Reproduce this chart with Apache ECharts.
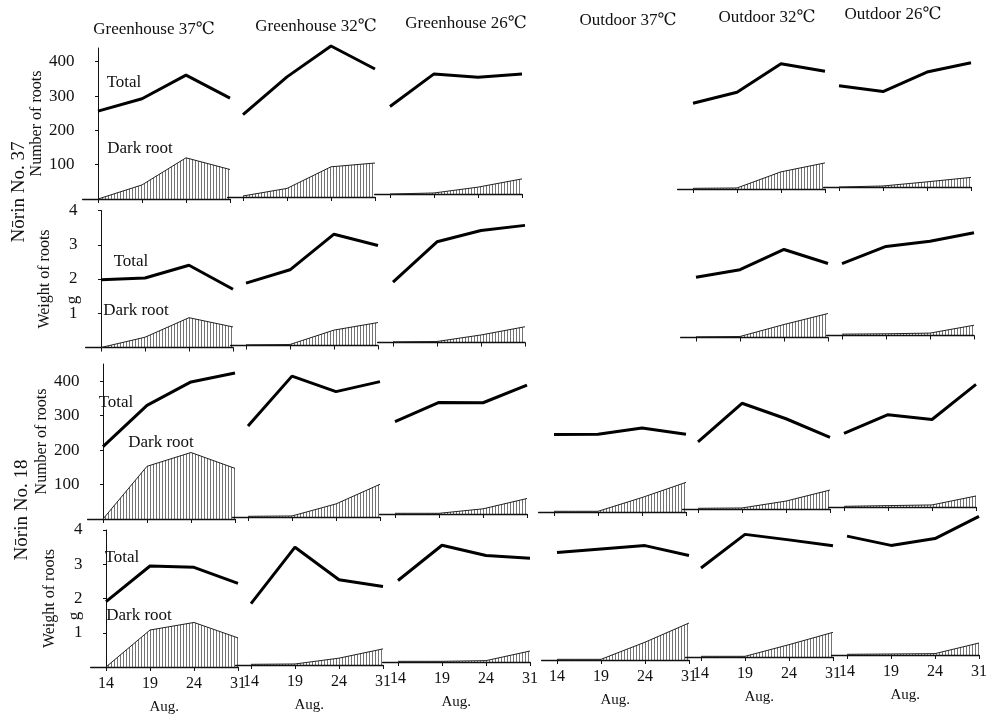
<!DOCTYPE html>
<html>
<head>
<meta charset="utf-8">
<script src="https://cdn.jsdelivr.net/npm/echarts@6/dist/echarts.min.js"></script>
<style>
  html, body { margin: 0; background: #fff; }
  #main { width: 993px; height: 718px; }
</style>
</head>
<body>
<div id="main"></div>
<script>
var days = ['14', '19', '24', '31'];
var conditions = ['Greenhouse 37℃', 'Greenhouse 32℃', 'Greenhouse 26℃', 'Outdoor 37℃', 'Outdoor 32℃', 'Outdoor 26℃'];

// one entry per condition, null = no data
var n37CountTotal = [[256, 292, 361, 294], [240, 350, 440, 373], [255, 350, 340, 350], null, [250, 282, 365, 343], [295, 278, 335, 362]];
var n37CountDark = [[0, 41, 120, 86], [3, 25, 88, 99], [0, 3, 20, 44], null, [2, 3, 50, 76], [0, 3, 15, 28]];
var n37WeightTotal = [[1.98, 2.03, 2.4, 1.7], [1.82, 2.21, 3.25, 2.92], [1.76, 2.94, 3.27, 3.42], null, [1.76, 1.98, 2.57, 2.16], [2.1, 2.6, 2.75, 3.0]];
var n37WeightDark = [[0, 0.3, 0.87, 0.6], [0.02, 0.03, 0.45, 0.67], [0.02, 0.03, 0.22, 0.46], null, [0.02, 0.03, 0.38, 0.7], [0.04, 0.05, 0.07, 0.3]];
var n18CountTotal = [[210, 330, 398, 424], [264, 409, 364, 393], [268, 324, 323, 374], [225, 226, 244, 226], [195, 307, 262, 208], [214, 268, 254, 356]];
var n18CountDark = [[0, 153, 193, 147], [2, 3, 38, 95], [2, 2, 15, 45], [2, 2, 42, 86], [2, 3, 23, 55], [2, 4, 6, 32]];
var n18WeightTotal = [[1.91, 2.95, 2.91, 2.44], [1.79, 3.44, 2.49, 2.29], [2.38, 3.41, 3.11, 3.03], [3.14, 3.24, 3.34, 3.05], [2.6, 3.58, 3.42, 3.25], [3.47, 3.2, 3.4, 4.05]];
var n18WeightDark = [[0, 1.08, 1.3, 0.85], [0.02, 0.03, 0.2, 0.47], [0.02, 0.02, 0.04, 0.32], [0.02, 0.02, 0.52, 1.08], [0.02, 0.02, 0.36, 0.72], [0.02, 0.03, 0.04, 0.35]];

var countTicks = [100, 200, 300, 400];
var weightTicks = [1, 2, 3, 4];

var FONT = '"Liberation Serif", "DejaVu Serif", serif';

// layout (the scan is a little tilted, so columns/rows get small offsets)
var colStart = [102, 247, 394, 553, 697, 843];
var colLift = [0, 2, 5, 7, 10, 12];
var rowShift = [-4, -1, 1, 4];
var titleX = [154, 316, 466, 628, 767, 893];
var step = 44;

var rows = [
  { total: n37CountTotal, dark: n37CountDark, max: 440, ticks: countTicks, name: 'Number of roots', top: 48, base: 199 },
  { total: n37WeightTotal, dark: n37WeightDark, max: 4, ticks: weightTicks, name: 'Weight of roots', top: 210.5, base: 347.5 },
  { total: n18CountTotal, dark: n18CountDark, max: 450, ticks: countTicks, name: 'Number of roots', top: 364, base: 519 },
  { total: n18WeightTotal, dark: n18WeightDark, max: 4, ticks: weightTicks, name: 'Weight of roots', top: 530, base: 667 }
];

// vertical hatching for the dark root area
var hatch = document.createElement('canvas');
hatch.width = 3;
hatch.height = 4;
var hctx = hatch.getContext('2d');
hctx.fillStyle = 'rgba(0,0,0,0.55)';
hctx.fillRect(0, 0, 1, 4);

var chart = echarts.init(document.getElementById('main'), null, { renderer: 'canvas' });

var option = {
  animation: false,
  backgroundColor: '#fff',
  grid: [],
  xAxis: [],
  yAxis: [],
  series: [],
  graphic: []
};

rows.forEach(function (row, r) {
  conditions.forEach(function (cond, c) {
    if (!row.total[c]) return;
    var idx = option.grid.length;
    var left = colStart[c] + rowShift[r] - 0.35 * step;
    option.grid.push({
      left: left,
      top: row.top - colLift[c],
      width: 3.35 * step,
      height: row.base - row.top
    });
    var last = r === rows.length - 1;
    option.xAxis.push({
      type: 'value',
      gridIndex: idx,
      min: -0.35,
      max: 3,
      axisLine: { show: true, lineStyle: { color: '#111', width: 1.3 } },
      axisTick: { show: true, customValues: [0, 1, 2, 3], length: 4, lineStyle: { color: '#111' } },
      axisLabel: {
        show: last,
        customValues: [0, 1, 2, 3],
        formatter: function (v) { return days[Math.round(v)]; },
        fontFamily: FONT,
        fontSize: 16,
        color: '#111',
        margin: 9
      },
      splitLine: { show: false },
      name: last ? 'Aug.' : '',
      nameLocation: 'middle',
      nameGap: 33,
      nameTextStyle: { fontFamily: FONT, fontSize: 15, color: '#111' }
    });
    var yAxis = {
      type: 'value',
      gridIndex: idx,
      min: 0,
      max: row.max,
      show: c === 0,
      splitLine: { show: false },
      axisLine: { show: true, lineStyle: { color: '#111', width: 1 } },
      axisTick: { show: true, customValues: row.ticks, length: 3, lineStyle: { color: '#111' } },
      axisLabel: {
        customValues: row.ticks,
        fontFamily: FONT,
        fontSize: 17,
        color: '#111',
        margin: 8
      }
    };
    if (c === 0) {
      yAxis.name = row.name;
      yAxis.nameLocation = 'middle';
      yAxis.nameRotate = 90;
      yAxis.nameGap = 33;
      yAxis.nameTextStyle = { fontFamily: FONT, fontSize: 16, color: '#111' };
    }
    option.yAxis.push(yAxis);

    option.series.push({
      name: 'Dark root',
      type: 'line',
      xAxisIndex: idx,
      yAxisIndex: idx,
      data: row.dark[c].map(function (v, i) { return [i, v]; }),
      symbol: 'none',
      clip: false,
      lineStyle: { color: '#222', width: 1 },
      areaStyle: { color: { image: hatch, repeat: 'repeat' }, opacity: 1 },
      z: 2
    });
    option.series.push({
      name: 'Total',
      type: 'line',
      xAxisIndex: idx,
      yAxisIndex: idx,
      data: row.total[c].map(function (v, i) { return [i, v]; }),
      symbol: 'none',
      clip: false,
      lineStyle: { color: '#000', width: 3 },
      z: 3
    });
  });
});

function txt(text, x, y, size, rot) {
  return {
    type: 'text',
    x: x,
    y: y,
    rotation: rot || 0,
    style: {
      text: text,
      fill: '#111',
      font: size + 'px ' + FONT,
      textAlign: 'center',
      textVerticalAlign: 'middle'
    }
  };
}

conditions.forEach(function (cond, c) {
  option.graphic.push(txt(cond, titleX[c], 30 - 0.021 * (titleX[c] - 154), 17));
});

option.graphic.push(txt('Total', 124, 83, 17));
option.graphic.push(txt('Dark root', 140, 149, 17));
option.graphic.push(txt('Total', 131, 262, 17));
option.graphic.push(txt('Dark root', 136, 311, 17));
option.graphic.push(txt('Total', 116, 403, 17));
option.graphic.push(txt('Dark root', 161, 443, 17));
option.graphic.push(txt('Total', 122, 558, 17));
option.graphic.push(txt('Dark root', 139, 616, 17));

option.graphic.push(txt('Nōrin No. 37', 19, 192, 19, Math.PI / 2));
option.graphic.push(txt('Nōrin No. 18', 22, 510, 19, Math.PI / 2));
option.graphic.push(txt('g', 73, 300, 17, Math.PI / 2));
option.graphic.push(txt('g', 75, 616, 17, Math.PI / 2));

chart.setOption(option);
</script>
</body>
</html>
